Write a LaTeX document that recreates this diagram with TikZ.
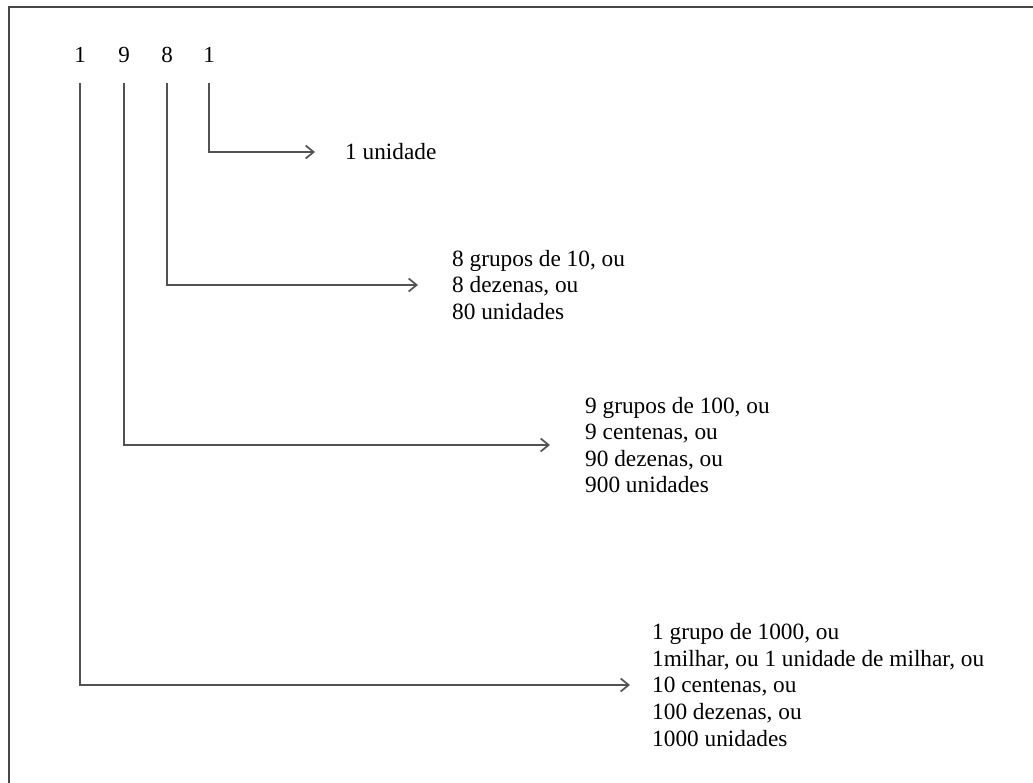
\documentclass[tikz,border=0pt]{standalone}
\usepackage{fontspec}
\setmainfont{Liberation Serif}
\usetikzlibrary{arrows.meta}
\begin{document}
\begin{tikzpicture}[x=1pt,y=-1pt,
  digit/.style={inner sep=0pt,font=\fontsize{23}{26}\selectfont},
  lbl/.style={anchor=west,inner sep=0pt,align=left,font=\fontsize{23.3}{26.6}\selectfont},
  conn/.style={draw=black!68,line width=1.9pt,-{Straight Barb[length=8pt,width=13pt,line width=1.7pt]},shorten <=20pt,shorten >=30pt}]
\useasboundingbox (0,0) rectangle (1033,782);
\draw[black!72,line width=2pt] (9,7) rectangle (1045,800);
\node[digit] (d1) at (80,55) {1};
\node[digit] (d2) at (124,55) {9};
\node[digit] (d3) at (167,55) {8};
\node[digit] (d4) at (209,55) {1};
\node[lbl] (t4) at (345,152) {1 unidade};
\node[lbl] (t3) at (452,285) {8 grupos de 10, ou\\8 dezenas, ou\\80 unidades};
\node[lbl] (t2) at (585,445) {9 grupos de 100, ou\\9 centenas, ou\\90 dezenas, ou\\900 unidades};
\node[lbl] (t1) at (652,685) {1 grupo de 1000, ou\\1milhar, ou 1 unidade de milhar, ou\\10 centenas, ou\\100 dezenas, ou\\1000 unidades};
\draw[conn] (d4.south) |- (t4.west);
\draw[conn,shorten >=34pt] (d3.south) |- (t3.west);
\draw[conn,shorten >=35pt] (d2.south) |- (t2.west);
\draw[conn,shorten >=22pt] (d1.south) |- (t1.west);
\end{tikzpicture}
\end{document}
